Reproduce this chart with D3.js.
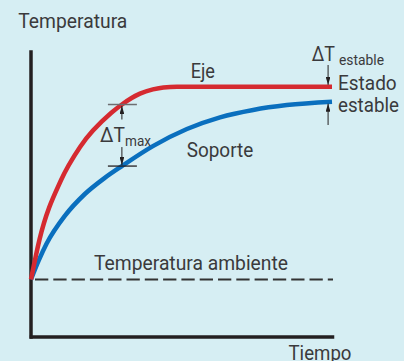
<!DOCTYPE html>
<html>
<head>
<meta charset="utf-8">
<script src="https://cdn.jsdelivr.net/npm/d3@7"></script>
<style>
  html, body { margin: 0; padding: 0; background: #d6eef3; }
  svg { display: block; }
  text { font-family: Roboto, "Noto Sans", sans-serif; fill: #3a3a3c; }
</style>
</head>
<body>
<svg id="chart"></svg>
<script>
// Data (time 0..100, temperature 0..100, arbitrary units)
const ejeTime = [0, 2.8, 10, 16.3, 26.6, 30.2, 36.2, 40.5, 44, 48.5, 56, 100];
const ejeTemp = [20, 33.9, 54.9, 66.5, 78.4, 81.4, 85.2, 86.7, 87.4, 87.6, 87.6, 87.6];
const soporteTime = [0, 2.5, 5.2, 11.3, 17.9, 24.3, 30.2, 40.5, 51.8, 62.8, 73.8, 85, 100];
const soporteTemp = [20, 26.5, 32.6, 42.4, 50, 55.5, 59.8, 66.8, 72.8, 76.9, 79.5, 81.2, 82.4];
const ambiente = 20;
const maxIdxEje = 5;      // punto de ΔTmax en la curva del eje
const maxIdxSoporte = 6;  // mismo instante en la curva del soporte
const estableTime = 98.7; // posición de las flechas de ΔT estable

const W = 404, H = 361;
const RED = '#d52a30', BLUE = '#0a6fbe', INK = '#231f20';

const svg = d3.select('#chart').attr('width', W).attr('height', H);

const x = d3.scaleLinear().domain([0, 100]).range([31, 332]);
const y = d3.scaleLinear().domain([0, 100]).range([336.5, 51.5]);

// arrow head
svg.append('defs').append('marker')
  .attr('id', 'arrow')
  .attr('viewBox', '0 0 10 6')
  .attr('refX', 10).attr('refY', 3)
  .attr('markerWidth', 8).attr('markerHeight', 4.8)
  .attr('markerUnits', 'userSpaceOnUse')
  .attr('orient', 'auto')
  .append('path')
  .attr('d', 'M0,0L10,3L0,6Z')
  .attr('fill', INK);

// axes (no ticks, just the lines)
const yAxis = svg.append('g')
  .attr('transform', `translate(${x(0) - 0.5},0)`)
  .call(d3.axisLeft(y).tickValues([]).tickSizeOuter(0));
const xAxis = svg.append('g')
  .attr('transform', `translate(0,${y(0)})`)
  .call(d3.axisBottom(x).tickValues([]).tickSizeOuter(0));
[yAxis, xAxis].forEach(a => a.select('.domain')
  .attr('stroke', INK).attr('stroke-width', 3.5).attr('stroke-linecap', 'square'));

// ambient temperature
svg.append('line')
  .attr('x1', x(0)).attr('x2', x(100) + 1)
  .attr('y1', y(ambiente)).attr('y2', y(ambiente))
  .attr('stroke', '#333').attr('stroke-width', 2.2)
  .attr('stroke-dasharray', '13.3,5').attr('stroke-dashoffset', -4);

const line = d3.line()
  .x(d => x(d[0]))
  .y(d => y(d[1]))
  .curve(d3.curveMonotoneX);

const soporte = soporteTime.map((t, i) => [t, soporteTemp[i]]);
const eje = ejeTime.map((t, i) => [t, ejeTemp[i]]);

svg.append('path').datum(soporte)
  .attr('d', line).attr('fill', 'none')
  .attr('stroke', BLUE).attr('stroke-width', 4.5);
svg.append('path').datum(eje)
  .attr('d', line).attr('fill', 'none')
  .attr('stroke', RED).attr('stroke-width', 4.5);

// ΔTmax markers
const tm = ejeTime[maxIdxEje];
const xm = x(tm);
const yTop = y(ejeTemp[maxIdxEje]);
const yBot = y(soporteTemp[maxIdxSoporte]);
svg.append('line')
  .attr('x1', xm - 14).attr('x2', xm + 15)
  .attr('y1', yTop).attr('y2', yTop)
  .attr('stroke', '#6d6e71').attr('stroke-width', 1.5);
svg.append('line')
  .attr('x1', xm - 14).attr('x2', xm + 15)
  .attr('y1', yBot).attr('y2', yBot)
  .attr('stroke', INK).attr('stroke-width', 1.3);

function arrow(x0, yFrom, yTo) {
  svg.append('line')
    .attr('x1', x0).attr('x2', x0)
    .attr('y1', yFrom).attr('y2', yTo)
    .attr('stroke', INK).attr('stroke-width', 1)
    .attr('marker-end', 'url(#arrow)');
}
arrow(xm, yTop + 15, yTop + 1.5);
arrow(xm, yBot - 19, yBot - 1);

// ΔT estable arrows
const xe = x(estableTime);
arrow(xe, 65, y(ejeTemp[ejeTemp.length - 1]) - 2);
arrow(xe, 125, y(soporteTemp[soporteTemp.length - 1]) + 2);

// labels
function label(txt, px, py, size, width) {
  const t = svg.append('text')
    .attr('x', px).attr('y', py)
    .attr('font-size', size)
    .text(txt);
  if (width) t.attr('textLength', width).attr('lengthAdjust', 'spacingAndGlyphs');
  return t;
}
label('Temperatura', 18.3, 28.3, 21, 109);
label('Tiempo', 288.5, 360, 21, 63);
label('Eje', 190.7, 78.3, 21, 24.3);
label('Soporte', 186.7, 157.3, 21, 66.6);
label('Temperatura ambiente', 94, 270, 21, 194);
label('Estado', 338, 90, 21, 58.7);
label('estable', 338, 111.7, 21, 61);
label('\u0394T', 311.7, 60.7, 21, 23.3);
label('estable', 339, 65, 14.5, 45);
label('\u0394T', 100, 142.3, 21, 25);
label('max', 125, 145.7, 14.5, 26);
</script>
</body>
</html>
